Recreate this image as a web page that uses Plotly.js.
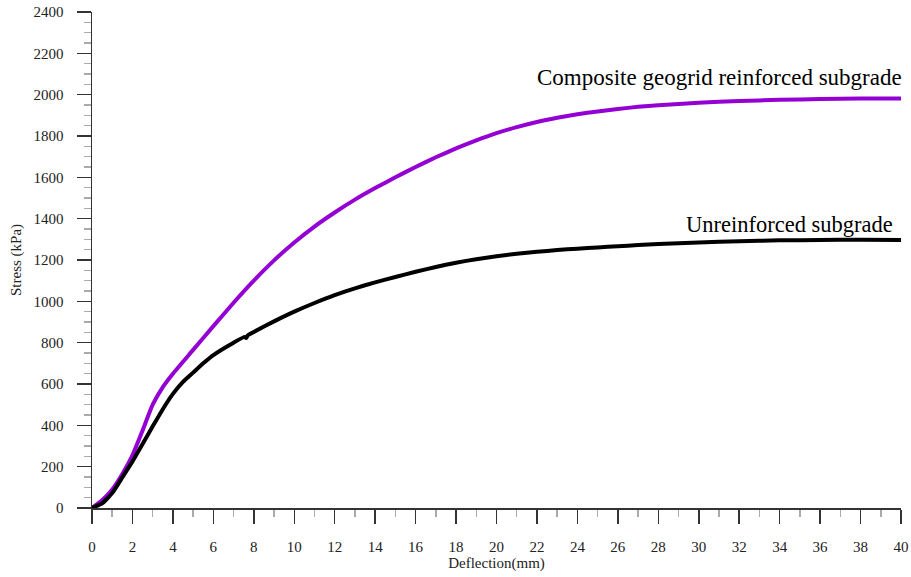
<!DOCTYPE html>
<html>
<head>
<meta charset="utf-8">
<script src="https://cdn.plot.ly/plotly-3.0.1.min.js"></script>
<style>
  html, body { margin: 0; padding: 0; background: #fff; }
  #chart { width: 911px; height: 577px; }
</style>
</head>
<body>
<div id="chart"></div>
<script>
// Plate load test: stress vs. deflection for two subgrade configurations
const deflectionComposite = [0, 0.5, 1, 1.5, 2, 2.5, 3, 3.5, 4, 5, 6, 7, 8, 9, 10, 11, 12, 13, 14, 15, 16, 17, 18, 19, 20, 21, 22, 23, 24, 25, 26, 27, 28, 30, 32, 34, 36, 38, 40];
const stressComposite = [0, 38, 90, 165, 255, 375, 500, 585, 650, 765, 880, 993, 1100, 1198, 1285, 1362, 1430, 1492, 1548, 1600, 1650, 1697, 1740, 1779, 1814, 1843, 1868, 1888, 1905, 1919, 1931, 1941, 1949, 1961, 1969, 1975, 1979, 1981, 1982];

const deflectionUnreinforced = [0, 0.5, 1, 1.5, 2, 2.5, 3, 3.5, 4, 4.5, 5, 5.5, 6, 7, 7.55, 7.62, 7.7, 8, 9, 10, 11, 12, 13, 14, 15, 16, 17, 18, 19, 20, 21, 22, 23, 24, 25, 26, 27, 28, 30, 32, 34, 36, 38, 40];
const stressUnreinforced = [0, 22, 72, 148, 225, 310, 395, 478, 552, 610, 655, 700, 740, 800, 828, 822, 835, 852, 903, 950, 992, 1030, 1063, 1092, 1118, 1143, 1166, 1187, 1204, 1218, 1230, 1240, 1248, 1255, 1261, 1267, 1272, 1277, 1285, 1291, 1295, 1297, 1298, 1297];

const xTickVals = [0, 2, 4, 6, 8, 10, 12, 14, 16, 18, 20, 22, 24, 26, 28, 30, 32, 34, 36, 38, 40];
const yTickVals = [0, 200, 400, 600, 800, 1000, 1200, 1400, 1600, 1800, 2000, 2200, 2400];

const seriesLabels = ['Composite geogrid reinforced subgrade', 'Unreinforced subgrade'];

const serif = 'Liberation Serif';

const traces = [
  {
    x: deflectionComposite, y: stressComposite,
    type: 'scatter', mode: 'lines', name: seriesLabels[0],
    line: { color: '#9400D3', width: 4, shape: 'spline', smoothing: 0.5 }
  },
  {
    x: deflectionUnreinforced, y: stressUnreinforced,
    type: 'scatter', mode: 'lines', name: seriesLabels[1],
    line: { color: '#000000', width: 4, shape: 'spline', smoothing: 0.4 }
  }
];

const axisCommon = {
  showgrid: false, zeroline: false,
  showline: true, linecolor: '#333', linewidth: 1.5,
  ticks: 'outside', ticklen: 14, tickwidth: 1.5, tickcolor: '#333',
  tickfont: { family: serif, size: 15, color: '#222' }
};

const layout = {
  width: 911, height: 577,
  margin: { l: 92, r: 10, t: 12, b: 69 },
  font: { family: serif, size: 15, color: '#222' },
  paper_bgcolor: '#fff', plot_bgcolor: '#fff',
  showlegend: false,
  xaxis: Object.assign({}, axisCommon, {
    range: [0, 40], tickvals: xTickVals, ticklabelstandoff: 10,
    minor: { dtick: 1, ticks: 'outside', ticklen: 7, tickwidth: 1.5, tickcolor: '#aaa' },
    title: { text: 'Deflection(mm)', font: { family: serif, size: 15, color: '#222' }, standoff: 4 }
  }),
  yaxis: Object.assign({}, axisCommon, {
    range: [0, 2400], tickvals: yTickVals, ticklabelstandoff: 10,
    minor: { dtick: 50, ticks: 'outside', ticklen: 7, tickwidth: 1.5, tickcolor: '#aaa' },
    title: { text: 'Stress (kPa)', font: { family: serif, size: 15, color: '#222' }, standoff: 8 }
  }),
  annotations: [
    {
      x: 40, y: 2081, xref: 'x', yref: 'y', xanchor: 'right', yanchor: 'middle', xshift: 3,
      text: seriesLabels[0], showarrow: false,
      font: { family: serif, size: 23, color: '#000' }
    },
    {
      x: 39.7, y: 1374, xref: 'x', yref: 'y', xanchor: 'right', yanchor: 'middle',
      text: seriesLabels[1], showarrow: false,
      font: { family: serif, size: 22.5, color: '#000' }
    }
  ]
};

Plotly.newPlot('chart', traces, layout, { staticPlot: true, displayModeBar: false });
</script>
</body>
</html>
